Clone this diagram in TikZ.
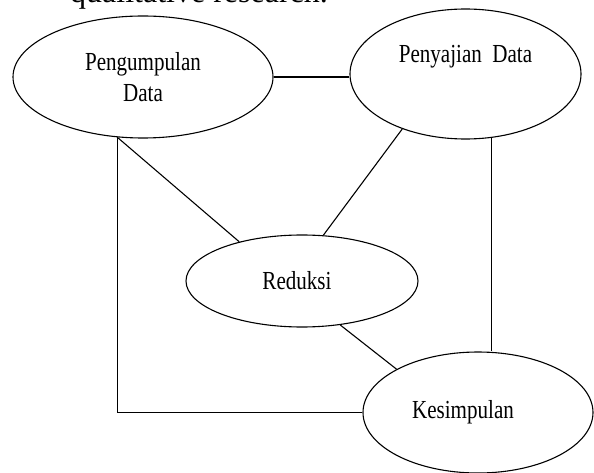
\documentclass[tikz,border=0pt]{standalone}
\usepackage{fontspec}
\setmainfont{Liberation Serif}
\newfontfamily\narrowserif[FakeStretch=0.81]{Liberation Serif}
\usetikzlibrary{shapes.geometric}

\begin{document}
\begin{tikzpicture}[
  x=1pt, y=-1pt,
  stage/.style={ellipse, draw=black, line width=1.1pt, inner sep=0pt, align=center,
                font=\narrowserif\fontsize{26}{31}\selectfont},
  link/.style={draw=black, line width=1.1pt},
]

\useasboundingbox (0,0) rectangle (594,473);
\clip (0,0) rectangle (594,473);

% ---------- caption line cut by the page ----------
\node[anchor=base west, inner sep=0pt, font=\fontsize{32}{38}\selectfont] (title) at (70,3) {qualitative research.};

% ---------- stages ----------
\node[stage, minimum width=260pt, minimum height=122pt] (peng) at (143,77) {Pengumpulan\hspace{15pt}\\Data\hspace{7pt}};
\node[stage, minimum width=231pt, minimum height=130pt] (peny) at (465.5,74) {Penyajian\ \ Data\hspace{28pt}\\ \strut};
\node[stage, minimum width=232pt, minimum height=92pt]  (red)  at (302,281) {Reduksi\hspace{10pt}};
\node[stage, minimum width=230pt, minimum height=121pt] (kes)  at (478,412.5) {Kesimpulan\hspace{30pt}};

% ---------- links ----------
\draw[link] (peng.east) -- (peng.east -| peny.west);
\draw[link] (peng.247) -- (red.148);
\draw[link] (peng.247) |- (kes.west);
\draw[link] (peny.221) -- (red.65);
\draw[link] (peny.292) -- (peny.292 |- kes.north);
\draw[link] (red.311) -- (kes.152);

\end{tikzpicture}
\end{document}
